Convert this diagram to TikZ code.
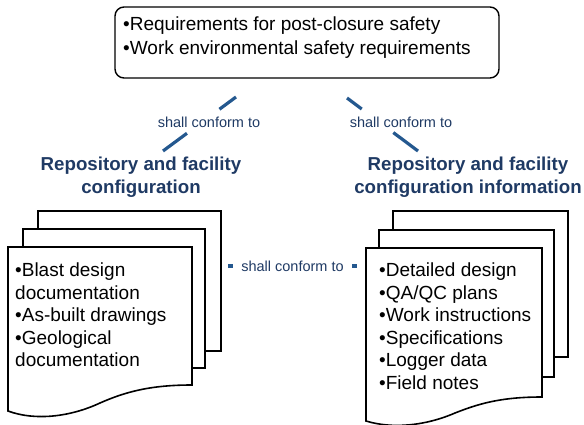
\documentclass[tikz,border=0pt]{standalone}
\usepackage{fontspec}
\setmainfont{Liberation Sans}
\usetikzlibrary{positioning,calc}
\definecolor{navy}{HTML}{1F3A64}
\definecolor{linkblue}{HTML}{24588F}
\tikzset{
  body/.style   ={font=\fontsize{19}{22.5}\selectfont, align=left, inner sep=0pt},
  reqbox/.style ={draw, rounded corners=9pt, line width=1.4pt, minimum width=384pt,
                  minimum height=71pt, inner sep=0pt},
  heading/.style={font=\fontsize{18.7}{23}\selectfont\bfseries, text=navy,
                  align=center, inner sep=0pt},
  page/.style   ={draw, fill=white, line width=1.6pt, rectangle, inner sep=0pt},
  % blue link, only its ends show beside the label
  conform/.style={draw=linkblue, line width=3.2pt},
  cflabel/.style={font=\fontsize{14.5}{16}\selectfont, text=navy, inner sep=0pt},
}
\begin{document}
\begin{tikzpicture}[x=1pt,y=-1pt]
\useasboundingbox (0,0) rectangle (584,425);
% requirements on top
\node[reqbox] (req) at (307,42.5) {};
\node[body, anchor=north west, font=\fontsize{19}{24}\selectfont] (reqtext) at (123,16.5)
  {•Requirements for post-closure safety\\•Work environmental safety requirements};
% headings
\node[heading, anchor=north] (cfgtitle) at (141,157) {Repository and facility\\configuration};
\node[heading, anchor=north] (infotitle) at (468,157) {Repository and facility\\configuration information};
% left stack of pages
\node[page, minimum width=183pt, minimum height=140pt] (cfgback) at (129.5,281) {};
\node[page, minimum width=182pt, minimum height=139pt] (cfgmid) at (114,298.5) {};
\draw[page] (8,247) coordinate (cfgfront) -- (192,247) -- (192,385)
  .. controls (150,385) and (125,392) .. (100,403)
  .. controls (70,417) and (35,421) .. (8,411) -- cycle;
\node[body, anchor=north west] (cfgtext) at (15,263)
  {•Blast design\\documentation\\•As-built drawings\\•Geological\\documentation};
% right stack of pages
\node[page, minimum width=175pt, minimum height=146pt] (infoback) at (480.5,284) {};
\node[page, minimum width=175pt, minimum height=147pt] (infomid) at (466.5,303.5) {};
\draw[page] (366,248) coordinate (infofront) -- (542,248) -- (542,397)
  .. controls (500,397) and (478,404) .. (455,413)
  .. controls (425,426) and (392,429) .. (366,421) -- cycle;
\node[body, anchor=north west] (infotext) at (379,263)
  {•Detailed design\\•QA/QC plans\\•Work instructions\\•Specifications\\•Logger data\\•Field notes};
% links
\coordinate (lkLa) at (236,97);
\coordinate (lkLb) at (163,151);
\coordinate (lkRa) at (347,98);
\coordinate (lkRb) at (418,151);
\coordinate (lkMa) at (228,266);
\coordinate (lkMb) at (357,266);
\draw[conform, dash pattern=on 20.6pt off 40.4pt on 31pt] (lkLa) -- (lkLb);
\draw[conform, dash pattern=on 18.4pt off 39.4pt on 31pt] (lkRa) -- (lkRb);
\node[cflabel] (cfL) at (209,122) {shall conform to};
\node[cflabel] (cfR) at (401,122) {shall conform to};
\draw[conform] (lkMa) -- (lkMb)
  node[cflabel, midway, fill=white, inner xsep=8.5pt, inner ysep=3pt] (cfM) {shall conform to};
\end{tikzpicture}
\end{document}
